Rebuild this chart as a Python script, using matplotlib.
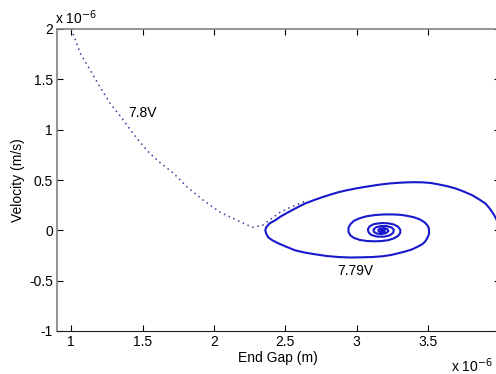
import matplotlib
matplotlib.use("Agg")
import matplotlib.pyplot as plt

# gap in micrometres (axis scaled by 1e-6), velocity in micrometres per second
gap_78 = [1.000, 1.063, 1.133, 1.203, 1.273, 1.357, 1.434, 1.532, 1.623, 1.714,
          1.812, 1.924, 2.043, 2.162, 2.268, 2.340, 2.415, 2.464, 2.534, 2.604, 2.653]
vel_78 = [2.000, 1.760, 1.590, 1.420, 1.260, 1.110, 0.960, 0.790, 0.670, 0.570,
          0.430, 0.300, 0.180, 0.100, 0.030, 0.050, 0.130, 0.180, 0.228, 0.268, 0.298]

# 7.79V trajectory, traced from the right edge back to the centre
gap_779 = [4.010, 4.000, 3.990, 3.975, 3.955, 3.930, 3.900, 3.860, 3.810, 3.750,
           3.690, 3.630, 3.570, 3.520, 3.460, 3.400, 3.340, 3.280, 3.220, 3.160,
           3.110, 3.050, 2.990, 2.930, 2.870, 2.820, 2.760, 2.700, 2.640, 2.580,
           2.520, 2.470, 2.429, 2.390, 2.365, 2.359,
           2.365, 2.380, 2.410, 2.450, 2.510, 2.569, 2.640, 2.709, 2.790, 2.870,
           2.950, 3.038, 3.110, 3.178, 3.240, 3.290, 3.340, 3.388, 3.430, 3.458,
           3.480, 3.493, 3.503, 3.507,
           3.505, 3.495, 3.475, 3.440, 3.400, 3.350, 3.300, 3.250, 3.190, 3.130,
           3.070, 3.020, 2.980, 2.955, 2.942, 2.942, 2.955, 2.980, 3.020, 3.070,
           3.120, 3.170, 3.220, 3.260, 3.290, 3.305, 3.305, 3.290, 3.260, 3.220,
           3.170, 3.120, 3.090, 3.078, 3.083, 3.100, 3.140, 3.190, 3.230, 3.255,
           3.260, 3.245, 3.210, 3.170, 3.135, 3.117, 3.120, 3.140, 3.175, 3.205,
           3.222, 3.215, 3.190, 3.163, 3.150, 3.157, 3.178, 3.196, 3.193, 3.178,
           3.170, 3.180]
vel_779 = [-0.040, 0.020, 0.070, 0.120, 0.169, 0.220, 0.268, 0.305, 0.348, 0.385,
           0.417, 0.440, 0.457, 0.470, 0.477, 0.478, 0.476, 0.471, 0.464, 0.454,
           0.443, 0.430, 0.415, 0.398, 0.378, 0.357, 0.330, 0.300, 0.268, 0.225,
           0.180, 0.140, 0.100, 0.070, 0.030, 0.000,
           -0.030, -0.070, -0.100, -0.129, -0.165, -0.199, -0.222, -0.238, -0.255, -0.265,
           -0.270, -0.268, -0.265, -0.258, -0.245, -0.228, -0.210, -0.189, -0.160, -0.139,
           -0.110, -0.079, -0.050, -0.020,
           0.020, 0.050, 0.080, 0.110, 0.130, 0.145, 0.155, 0.158, 0.158, 0.152,
           0.140, 0.120, 0.095, 0.060, 0.025, -0.015, -0.050, -0.075, -0.095, -0.106,
           -0.109, -0.107, -0.098, -0.080, -0.055, -0.025, 0.005, 0.035, 0.058, 0.070,
           0.072, 0.062, 0.040, 0.010, -0.020, -0.045, -0.062, -0.063, -0.050, -0.025,
           0.005, 0.028, 0.042, 0.043, 0.030, 0.008, -0.015, -0.032, -0.037, -0.027,
           -0.008, 0.012, 0.022, 0.018, 0.003, -0.013, -0.018, -0.008, 0.006, 0.010,
           0.000, -0.005]

xticks = [1, 1.5, 2, 2.5, 3, 3.5]
yticks = [-1, -0.5, 0, 0.5, 1, 1.5, 2]


def main():
    plt.rcParams['font.family'] = ['Liberation Sans', 'DejaVu Sans']
    fig = plt.figure(figsize=(4.96, 3.74), dpi=100)
    ax = fig.add_axes([57 / 496, 43 / 374, 442.5 / 496, 302 / 374])

    ax.plot(gap_78, vel_78, color='#3a3a9c', linestyle=(0, (1, 2.4)), linewidth=1.1)
    ax.plot(gap_779, vel_779, color='#1818cc', linewidth=1.5,
            solid_joinstyle='round', solid_capstyle='round')

    ax.text(1.5, 1.17, '7.8V', fontsize=10, ha='center', va='center')
    ax.text(2.99, -0.40, '7.79V', fontsize=10, ha='center', va='center')

    ax.set_xlim(0.9, 4.0)
    ax.set_ylim(-1, 2)
    ax.set_xticks(xticks)
    ax.set_yticks(yticks)
    ax.set_xticklabels([f'{t:g}' for t in xticks])
    ax.set_yticklabels([f'{t:g}' for t in yticks])
    ax.tick_params(direction='in', length=4, width=0.8, top=True, right=True,
                   labelsize=10, pad=3)
    for side in ['left', 'top']:
        ax.spines[side].set_color('#808080')
        ax.spines[side].set_linewidth(1.2)
    ax.spines['bottom'].set_color('#202020')
    ax.spines['right'].set_color('#404040')

    ax.set_xlabel('End Gap (m)', fontsize=10, labelpad=1)
    ax.set_ylabel('Velocity (m/s)', fontsize=10, labelpad=3)

    # exponent labels in the MATLAB style
    fig.text(55 / 496, 1 - 18 / 374, r'x 10$^{-6}$', fontsize=10, va='center')
    fig.text(493 / 496, 1 - 366 / 374, r'x 10$^{-6}$', fontsize=10,
             ha='right', va='center')

    fig.savefig('out.png', dpi=100)


if __name__ == '__main__':
    main()
